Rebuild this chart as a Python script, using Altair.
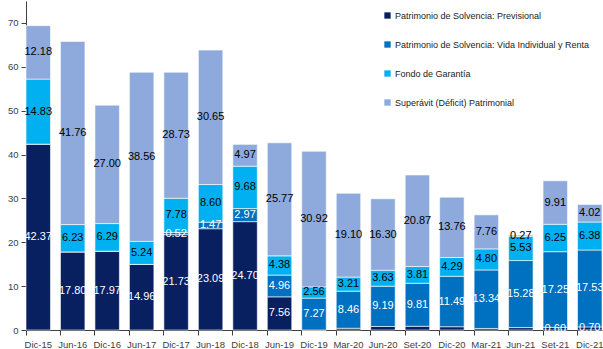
import altair as alt
import pandas as pd

periods = ["Dic-15", "Jun-16", "Dic-16", "Jun-17", "Dic-17", "Jun-18", "Dic-18", "Jun-19",
           "Dic-19", "Mar-20", "Jun-20", "Set-20", "Dic-20", "Mar-21", "Jun-21", "Set-21", "Dic-21"]

series_names = ["Patrimonio de Solvencia: Previsional",
                "Patrimonio de Solvencia: Vida Individual y Renta",
                "Fondo de Garantía",
                "Superávit (Déficit) Patrimonial"]
series_colors = ["#082060", "#0070C0", "#00B0F0", "#8EA9DB"]
label_colors = ["white", "white", "black", "black"]

previsional = [42.37, 17.80, 17.97, 14.96, 21.73, 23.09, 24.70, 7.56,
               0.0, 0.40, 0.80, 0.85, 0.75, 0.35, 0.55, 0.60, 0.70]
previsional_label_shown = [True, True, True, True, True, True, True, True,
                           False, False, False, False, False, False, False, True, True]
vida = [0.0, 0.0, 0.0, 0.0, 0.52, 1.47, 2.97, 4.96,
        7.27, 8.46, 9.19, 9.81, 11.49, 13.34, 15.28, 17.25, 17.53]
fondo = [14.83, 6.23, 6.29, 5.24, 7.78, 8.60, 9.68, 4.38,
         2.56, 3.21, 3.63, 3.81, 4.29, 4.80, 5.53, 6.25, 6.38]
superavit = [12.18, 41.76, 27.00, 38.56, 28.73, 30.65, 4.97, 25.77,
             30.92, 19.10, 16.30, 20.87, 13.76, 7.76, 0.27, 9.91, 4.02]

y_ticks = [0, 10, 20, 30, 40, 50, 60, 70]

rows = []
for i, p in enumerate(periods):
    vals = [previsional[i], vida[i], fondo[i], superavit[i]]
    for k, v in enumerate(vals):
        show = v > 0 and (k != 0 or previsional_label_shown[i])
        rows.append({"periodo": p, "serie": series_names[k], "orden": k,
                     "valor": v, "etiqueta": f"{v:.2f}" if show else "",
                     "color_texto": label_colors[k]})
df = pd.DataFrame(rows)

base = alt.Chart(df).transform_stack(
    stack="valor", groupby=["periodo"], as_=["y0", "y1"],
    sort=[alt.SortField("orden", order="ascending")]
).transform_calculate(ymid="(datum.y0 + datum.y1) / 2")

xenc = alt.X("periodo:N", sort=periods, title=None,
             scale=alt.Scale(paddingInner=0.29, paddingOuter=0.0),
             axis=alt.Axis(labelAngle=0, labelFontSize=9.5, labelColor="#404040",
                           labelFont="Liberation Sans", bandPosition=0,
                           tickSize=5, tickColor="#404040", domainColor="#404040",
                           labelPadding=4))

yscale = alt.Scale(domain=[0, 75], nice=False)

bars = base.mark_bar(stroke="white", strokeWidth=0.6).encode(
    x=xenc,
    y=alt.Y("y0:Q", scale=yscale, title=None,
            axis=alt.Axis(values=y_ticks, grid=False, labelFontSize=9.5,
                          labelColor="#404040", labelFont="Liberation Sans",
                          tickSize=5, tickColor="#404040", domainColor="#404040",
                          labelPadding=3)),
    y2="y1:Q",
    color=alt.Color("serie:N", sort=series_names,
                    scale=alt.Scale(domain=series_names, range=series_colors),
                    legend=alt.Legend(title=None, orient="none", legendX=357, legendY=10,
                                      symbolType="square", symbolSize=40,
                                      symbolStrokeWidth=0, labelFontSize=9,
                                      labelFont="Liberation Sans", labelColor="#222222",
                                      rowPadding=19, labelOffset=3, padding=0,
                                      labelLimit=300)),
    order=alt.Order("orden:Q"),
)

labels = base.mark_text(fontSize=11, font="Liberation Sans", baseline="middle",
                        align="center").encode(
    x=alt.X("periodo:N", sort=periods),
    y=alt.Y("ymid:Q", scale=yscale),
    text="etiqueta:N",
    color=alt.Color("color_texto:N", scale=None),
)

chart = alt.layer(bars, labels).properties(
    width=576, height=329,
    padding={"left": 26, "top": 1, "right": 1, "bottom": 19},
    autosize=alt.AutoSizeParams(type="none"),
    background="white",
).configure_view(stroke=None)

chart.save("out.html", embed_options={"renderer": "svg", "actions": False})
